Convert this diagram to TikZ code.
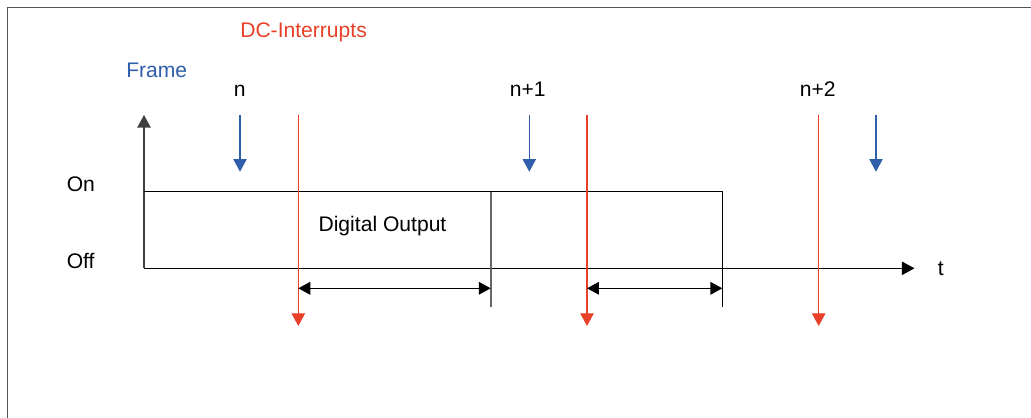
\documentclass[tikz,border=0pt]{standalone}
\usepackage{fontspec}
\setmainfont{Liberation Sans}
\usetikzlibrary{arrows.meta}
\definecolor{frameBlue}{RGB}{47, 94, 170}
\definecolor{irqRed}{RGB}{232, 64, 40}
\definecolor{borderGray}{RGB}{85, 85, 85}

\begin{document}
\begin{tikzpicture}[x=0.025cm, y=-0.025cm,
    font=\fontsize{15}{18}\selectfont,
    lbl/.style={anchor=base west, inner sep=0pt},
    headTri/.style={-{Triangle[length=9pt, width=9.5pt]}},
    frameArrow/.style={frameBlue, line width=0.9pt, headTri},
    irqArrow/.style={irqRed, line width=0.9pt, headTri},
    spanArrow/.style={black, line width=1pt, {Triangle[length=8.5pt, width=9pt]}-{Triangle[length=8.5pt, width=9pt]}}]
      \useasboundingbox (0,0) rectangle (1031,418);

      % outer frame (top and left only)
      \coordinate (bTL) at (7.5,7.5);
      \coordinate (bTR) at (1031,7.5);
      \coordinate (bBL) at (7.5,418);
      \draw[borderGray, line width=1.4pt] (bBL) -- (bTL) -- (bTR);

      % titles
      \node[lbl, irqRed] (dcTitle) at (240,38) {DC-Interrupts};
      \node[lbl, frameBlue] (frameTitle) at (126,78) {Frame};

      % frame numbers
      \node[lbl] (nA) at (233.5,96.5) {n};
      \node[lbl] (nB) at (509.5,96.5) {n+1};
      \node[lbl] (nC) at (799.5,96.5) {n+2};

      % levels
      \node[lbl] (onLbl) at (66.5,192) {On};
      \node[lbl] (offLbl) at (66.5,269) {Off};

      % axes
      \coordinate (O) at (144,268.3);
      \coordinate (yTop) at (144,115);
      \coordinate (tEnd) at (914.5,268.3);
      \draw[black!75, line width=1pt, headTri] (O) -- (yTop);
      \draw[line width=1pt, headTri] (O) -- (tEnd);
      \node[lbl] (tLbl) at (937.5,276) {t};

      % digital output signal
      \coordinate (onL) at (144,191.7);
      \coordinate (onR) at (722.3,191.7);
      \coordinate (endA) at (490.7,306.7);
      \coordinate (endB) at (722.3,306.7);
      \draw[line width=1pt] (onL) -- (onR) -- (endB);
      \draw[black!60, line width=1.2pt] (490.7,191.7) -- (endA);
      \node[lbl] (doLbl) at (318.3,231.5) {Digital Output};

      % frame arrows
      \coordinate (f1a) at (240,115);   \coordinate (f1b) at (240,171.7);
      \coordinate (f2a) at (529.3,115); \coordinate (f2b) at (529.3,171.7);
      \coordinate (f3a) at (876,115);   \coordinate (f3b) at (876,171.7);
      \draw[frameArrow] (f1a) -- (f1b);
      \draw[frameArrow] (f2a) -- (f2b);
      \draw[frameArrow] (f3a) -- (f3b);

      % DC interrupt arrows
      \coordinate (i1a) at (298.3,115); \coordinate (i1b) at (298.3,326);
      \coordinate (i2a) at (587,115);   \coordinate (i2b) at (587,326);
      \coordinate (i3a) at (818.7,115); \coordinate (i3b) at (818.7,326);
      \draw[irqArrow] (i1a) -- (i1b);
      \draw[irqArrow] (i2a) -- (i2b);
      \draw[irqArrow] (i3a) -- (i3b);

      % delay spans
      \coordinate (s1a) at (298.3,288.3); \coordinate (s1b) at (490.7,288.3);
      \coordinate (s2a) at (587,288.3);   \coordinate (s2b) at (722.3,288.3);
      \draw[spanArrow] (s1a) -- (s1b);
      \draw[spanArrow] (s2a) -- (s2b);
    \end{tikzpicture}
\end{document}
